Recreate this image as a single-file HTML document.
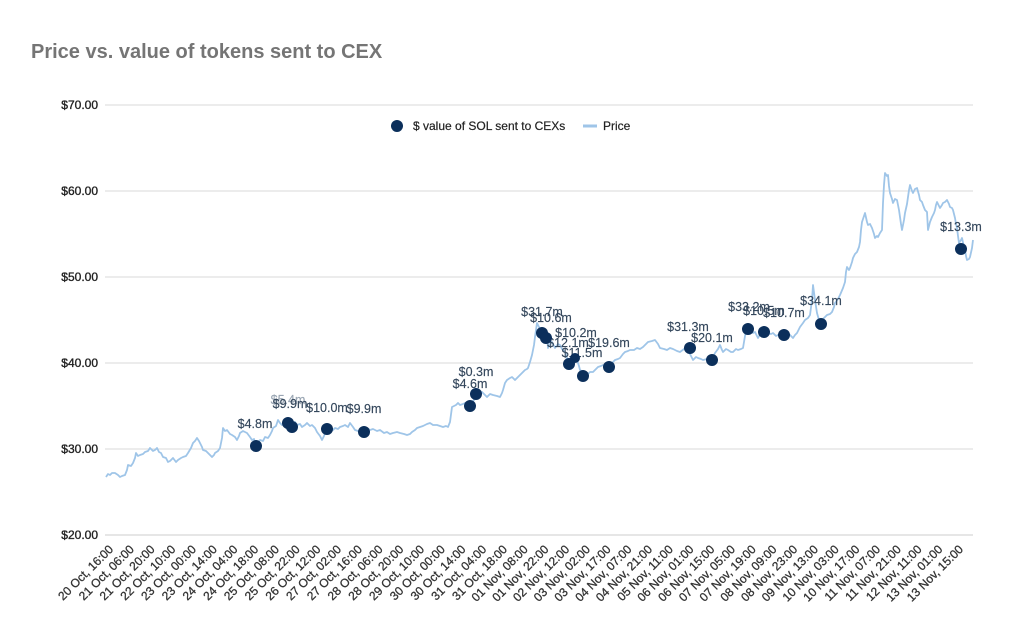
<!DOCTYPE html>
<html>
<head>
<meta charset="utf-8">
<style>
  html,body{margin:0;padding:0;background:#fff;}
  svg{display:block;}
  text{font-family:"Liberation Sans", Arial, sans-serif;}
</style>
</head>
<body>
<svg width="1024" height="638" viewBox="0 0 1024 638" xmlns="http://www.w3.org/2000/svg">
  <rect width="1024" height="638" fill="#fff"/>
  <!-- Title -->
  <text x="31" y="58" font-size="20" font-weight="bold" fill="#757575">Price vs. value of tokens sent to CEX</text>

  <!-- Gridlines -->
  <g stroke="#d9d9d9" stroke-width="1">
    <line x1="105" y1="105" x2="973" y2="105"/>
    <line x1="105" y1="191" x2="973" y2="191"/>
    <line x1="105" y1="277" x2="973" y2="277"/>
    <line x1="105" y1="363" x2="973" y2="363"/>
    <line x1="105" y1="449" x2="973" y2="449"/>
    <line x1="105" y1="535" x2="973" y2="535" stroke="#cccccc"/>
  </g>

  <!-- Y labels -->
  <g font-size="12" fill="#222" stroke="#222" stroke-width="0.35" text-anchor="end">
    <text x="98" y="109">$70.00</text>
    <text x="98" y="195">$60.00</text>
    <text x="98" y="281">$50.00</text>
    <text x="98" y="367">$40.00</text>
    <text x="98" y="453">$30.00</text>
    <text x="98" y="539">$20.00</text>
  </g>

  <!-- Legend -->
  <circle cx="397" cy="126" r="6" fill="#0b2f5b"/>
  <text x="413" y="130" font-size="12" fill="#222" stroke="#222" stroke-width="0.2">$ value of SOL sent to CEXs</text>
  <line x1="583" y1="126" x2="597" y2="126" stroke="#9fc5e8" stroke-width="3"/>
  <text x="603" y="130" font-size="12" fill="#222" stroke="#222" stroke-width="0.2">Price</text>

  <!-- Price line -->
  <polyline fill="none" stroke="#9fc5e8" stroke-width="1.8" stroke-linejoin="round" points="106,477 108,474 110,475 112,473 115,473 118,475 120,477 122,476 125,475 127,470 128,465 131,466 133,463 135,458 136,453 138,456 140,455 143,454 145,452 148,451 150,448 153,451 155,450 157,448 159,452 161,453 163,457 166,458 168,462 170,461 173,458 176,462 178,460 181,458 183,457 186,456 188,453 191,448 193,443 195,441 197,438 199,441 200,443 202,447 203,450 206,451 208,453 210,455 212,457 214,455 215,453 218,451 220,448 222,438 223,428 225,431 227,430 230,434 232,435 235,437 237,440 239,436 240,433 243,431 247,433 250,437 252,440 254,439 255,443 258,442 260,440 263,441 265,437 268,438 270,435 272,431 273,428 276,426 278,420 280,423 282,425 285,421 287,423 290,426 292,427 295,422 297,425 300,424 302,427 305,425 307,423 310,426 312,425 315,428 317,432 320,436 322,440 324,436 325,433 328,431 330,428 333,430 335,428 338,429 340,427 343,426 345,425 348,427 350,423 353,427 355,430 358,431 360,432 364,430 367,428 370,430 373,429 377,431 380,430 384,433 387,432 390,434 393,433 397,432 400,433 404,434 407,435 410,434 412,432 415,430 417,428 420,427 423,426 427,424 430,423 433,425 437,425 440,426 443,427 446,426 448,427 450,422 452,407 454,406 456,405 458,403 460,405 463,404 465,403 468,406 470,405 472,402 474,400 476,395 477,393 480,394 482,392 485,395 487,397 490,394 493,395 497,396 500,397 502,393 503,390 505,383 507,380 510,378 512,377 514,379 515,380 518,377 520,375 523,372 525,370 527,369 528,368 530,362 532,355 534,345 535,337 536,330 537,323 539,327 540,330 542,338 543,342 545,339 547,337 548,348 550,344 552,342 554,346 555,348 558,344 560,345 562,349 565,352 567,358 568,362 571,357 573,355 575,358 577,360 579,366 580,370 583,372 587,375 590,372 593,372 596,369 598,367 601,366 603,365 606,367 610,368 612,363 615,360 618,359 620,358 623,354 625,352 628,351 630,350 634,350 637,348 640,349 643,347 646,344 648,342 652,341 655,340 658,344 660,348 664,349 667,350 670,348 673,349 677,351 680,352 684,349 687,350 690,354 693,360 696,357 698,358 701,359 703,360 707,359 712,360 714,355 715,353 718,349 720,345 722,350 723,352 726,349 728,350 731,352 733,352 736,349 738,350 741,349 743,348 745,336 747,327 749,331 750,330 753,333 755,332 757,336 758,338 761,333 763,330 766,332 768,333 771,334 773,333 776,336 778,335 781,334 783,335 786,332 788,333 791,336 793,338 795,335 797,333 800,327 803,323 805,320 808,318 810,315 812,300 813,285 815,300 817,313 819,320 820,323 823,319 827,315 830,314 832,312 834,307 835,303 838,299 840,295 843,288 845,282 846,272 847,267 849,270 850,268 852,262 853,258 855,254 857,252 859,247 860,242 861,230 862,222 864,216 865,213 867,222 868,225 870,224 872,228 874,234 875,238 877,236 878,237 880,233 882,230 883,203 884,185 885,173 887,176 888,175 889,186 890,193 892,199 893,203 895,199 897,200 899,210 900,217 901,224 902,230 904,220 905,213 907,204 908,197 909,190 910,185 912,191 913,193 915,189 917,188 919,195 920,200 922,202 923,205 925,210 927,212 928,230 930,222 932,217 934,213 935,210 936,205 937,202 939,206 940,208 942,205 943,203 945,202 947,200 949,204 950,207 952,208 953,210 954,214 955,218 956,224 957,228 958,236 959,243 961,240 962,238 964,247 965,250 966,256 967,260 969,259 970,257 972,248 973,240"/>

  <!-- Data labels -->
  <g font-size="12.5" fill="#34475c" stroke="#34475c" stroke-width="0.15" text-anchor="middle">
    <text x="255" y="428">$4.8m</text>
    <text x="288" y="404" fill="#9aa6b3" stroke="#9aa6b3">$5.4m</text>
    <text x="290" y="408">$9.9m</text>
    <text x="327" y="412">$10.0m</text>
    <text x="364" y="413">$9.9m</text>
    <text x="476" y="376">$0.3m</text>
    <text x="470" y="388">$4.6m</text>
    <text x="542" y="316">$31.7m</text>
    <text x="551" y="322">$10.6m</text>
    <text x="576" y="337">$10.2m</text>
    <text x="568" y="347">$12.1m</text>
    <text x="582" y="357">$11.5m</text>
    <text x="609" y="347">$19.6m</text>
    <text x="688" y="331">$31.3m</text>
    <text x="712" y="342">$20.1m</text>
    <text x="749" y="311">$33.2m</text>
    <text x="764" y="315">$10.5m</text>
    <text x="784" y="317">$10.7m</text>
    <text x="821" y="305">$34.1m</text>
    <text x="961" y="231">$13.3m</text>
  </g>

  <!-- Dots -->
  <g fill="#0b2f5b">
    <circle cx="256" cy="446" r="6"/>
    <circle cx="288" cy="423" r="6"/>
    <circle cx="292" cy="427" r="6"/>
    <circle cx="327" cy="429" r="6"/>
    <circle cx="364" cy="432" r="6"/>
    <circle cx="470" cy="406" r="6"/>
    <circle cx="476" cy="394" r="6"/>
    <circle cx="542" cy="333" r="6"/>
    <circle cx="546" cy="338" r="6"/>
    <circle cx="575" cy="358" r="5"/>
    <circle cx="569" cy="364" r="6"/>
    <circle cx="583" cy="376" r="6"/>
    <circle cx="609" cy="367" r="6"/>
    <circle cx="690" cy="348" r="6"/>
    <circle cx="712" cy="360" r="6"/>
    <circle cx="748" cy="329" r="6"/>
    <circle cx="764" cy="332" r="6"/>
    <circle cx="784" cy="335" r="6"/>
    <circle cx="821" cy="324" r="6"/>
    <circle cx="961" cy="249" r="6"/>
  </g>

  <!-- X labels -->
  <g font-size="12" fill="#333" stroke="#333" stroke-width="0.3" text-anchor="end">
    <text transform="translate(114,550) rotate(-45)">20 Oct, 16:00</text>
    <text transform="translate(134.7,550) rotate(-45)">21 Oct, 06:00</text>
    <text transform="translate(155.5,550) rotate(-45)">21 Oct, 20:00</text>
    <text transform="translate(176.2,550) rotate(-45)">22 Oct, 10:00</text>
    <text transform="translate(196.9,550) rotate(-45)">23 Oct, 00:00</text>
    <text transform="translate(217.7,550) rotate(-45)">23 Oct, 14:00</text>
    <text transform="translate(238.4,550) rotate(-45)">24 Oct, 04:00</text>
    <text transform="translate(259.1,550) rotate(-45)">24 Oct, 18:00</text>
    <text transform="translate(279.8,550) rotate(-45)">25 Oct, 08:00</text>
    <text transform="translate(300.6,550) rotate(-45)">25 Oct, 22:00</text>
    <text transform="translate(321.3,550) rotate(-45)">26 Oct, 12:00</text>
    <text transform="translate(342,550) rotate(-45)">27 Oct, 02:00</text>
    <text transform="translate(362.8,550) rotate(-45)">27 Oct, 16:00</text>
    <text transform="translate(383.5,550) rotate(-45)">28 Oct, 06:00</text>
    <text transform="translate(404.2,550) rotate(-45)">28 Oct, 20:00</text>
    <text transform="translate(425,550) rotate(-45)">29 Oct, 10:00</text>
    <text transform="translate(445.7,550) rotate(-45)">30 Oct, 00:00</text>
    <text transform="translate(466.4,550) rotate(-45)">30 Oct, 14:00</text>
    <text transform="translate(487.1,550) rotate(-45)">31 Oct, 04:00</text>
    <text transform="translate(507.9,550) rotate(-45)">31 Oct, 18:00</text>
    <text transform="translate(528.6,550) rotate(-45)">01 Nov, 08:00</text>
    <text transform="translate(549.3,550) rotate(-45)">01 Nov, 22:00</text>
    <text transform="translate(570.1,550) rotate(-45)">02 Nov, 12:00</text>
    <text transform="translate(590.8,550) rotate(-45)">03 Nov, 02:00</text>
    <text transform="translate(611.5,550) rotate(-45)">03 Nov, 17:00</text>
    <text transform="translate(632.3,550) rotate(-45)">04 Nov, 07:00</text>
    <text transform="translate(653,550) rotate(-45)">04 Nov, 21:00</text>
    <text transform="translate(673.7,550) rotate(-45)">05 Nov, 11:00</text>
    <text transform="translate(694.4,550) rotate(-45)">06 Nov, 01:00</text>
    <text transform="translate(715.2,550) rotate(-45)">06 Nov, 15:00</text>
    <text transform="translate(735.9,550) rotate(-45)">07 Nov, 05:00</text>
    <text transform="translate(756.6,550) rotate(-45)">07 Nov, 19:00</text>
    <text transform="translate(777.4,550) rotate(-45)">08 Nov, 09:00</text>
    <text transform="translate(798.1,550) rotate(-45)">08 Nov, 23:00</text>
    <text transform="translate(818.8,550) rotate(-45)">09 Nov, 13:00</text>
    <text transform="translate(839.6,550) rotate(-45)">10 Nov, 03:00</text>
    <text transform="translate(860.3,550) rotate(-45)">10 Nov, 17:00</text>
    <text transform="translate(881,550) rotate(-45)">11 Nov, 07:00</text>
    <text transform="translate(901.7,550) rotate(-45)">11 Nov, 21:00</text>
    <text transform="translate(922.5,550) rotate(-45)">12 Nov, 11:00</text>
    <text transform="translate(943.2,550) rotate(-45)">13 Nov, 01:00</text>
    <text transform="translate(963.9,550) rotate(-45)">13 Nov, 15:00</text>
  </g>
</svg>
</body>
</html>
